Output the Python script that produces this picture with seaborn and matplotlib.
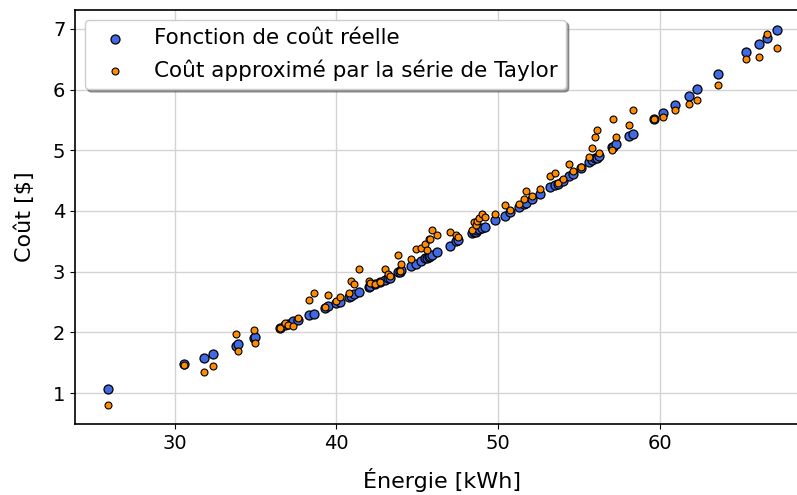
import matplotlib
matplotlib.use("Agg")
import matplotlib.pyplot as plt
import seaborn as sns
import pandas as pd

energie = [25.9, 30.6, 31.8, 32.4, 33.8, 33.9, 34.9, 35.0, 36.5, 36.8, 37.0, 37.3, 37.6,
           38.3, 38.6, 39.3, 39.5, 40.0, 40.2, 40.8, 40.9, 41.1, 41.4, 42.0, 42.1, 42.4,
           42.7, 43.0, 43.2, 43.3, 43.8, 43.9, 44.0, 44.6, 44.9, 45.2, 45.5, 45.6, 45.7,
           45.8, 45.9, 46.2, 47.0, 47.4, 47.5, 48.4, 48.5, 48.6, 48.7, 48.8, 49.0, 49.2,
           49.8, 50.4, 50.7, 51.3, 51.6, 51.7, 52.1, 52.6, 53.2, 53.5, 53.7, 54.0, 54.4,
           54.6, 55.1, 55.6, 55.8, 56.0, 56.1, 56.2, 57.0, 57.1, 57.3, 58.1, 58.3, 59.6,
           60.2, 60.9, 61.8, 62.3, 63.6, 65.3, 66.1, 66.6, 67.2]

cout_reel = [1.06, 1.48, 1.58, 1.65, 1.78, 1.80, 1.90, 1.92, 2.07, 2.12, 2.14, 2.18, 2.21,
             2.29, 2.31, 2.40, 2.43, 2.48, 2.50, 2.59, 2.60, 2.63, 2.67, 2.74, 2.76, 2.79,
             2.83, 2.87, 2.89, 2.90, 2.99, 3.00, 3.02, 3.09, 3.13, 3.17, 3.22, 3.23, 3.24,
             3.25, 3.27, 3.32, 3.43, 3.50, 3.52, 3.63, 3.65, 3.66, 3.68, 3.70, 3.72, 3.74,
             3.85, 3.92, 3.98, 4.07, 4.12, 4.13, 4.20, 4.28, 4.39, 4.43, 4.45, 4.50, 4.57,
             4.61, 4.70, 4.80, 4.84, 4.87, 4.88, 4.90, 5.05, 5.06, 5.10, 5.23, 5.27, 5.51,
             5.61, 5.75, 5.90, 6.01, 6.25, 6.61, 6.75, 6.85, 6.98]

cout_taylor = [0.80, 1.46, 1.35, 1.44, 1.98, 1.69, 2.04, 1.82, 2.07, 2.15, 2.12, 2.11, 2.23,
               2.54, 2.64, 2.41, 2.61, 2.52, 2.59, 2.65, 2.84, 2.79, 3.05, 2.85, 2.82, 2.79,
               2.83, 3.05, 2.96, 2.92, 3.28, 3.01, 3.13, 3.21, 3.38, 3.39, 3.45, 3.36, 3.54,
               3.53, 3.69, 3.60, 3.65, 3.60, 3.57, 3.69, 3.81, 3.76, 3.84, 3.88, 3.95, 3.90,
               3.95, 4.10, 4.02, 4.12, 4.19, 4.33, 4.25, 4.36, 4.58, 4.63, 4.46, 4.52, 4.78,
               4.65, 4.73, 4.89, 5.04, 5.21, 5.33, 4.96, 5.01, 5.51, 5.21, 5.42, 5.66, 5.51,
               5.54, 5.67, 5.76, 5.83, 6.08, 6.51, 6.53, 6.92, 6.69]

label_reel = "Fonction de coût réelle"
label_taylor = "Coût approximé par la série de Taylor"

df = pd.DataFrame({"energie": energie, "reel": cout_reel, "taylor": cout_taylor})

fig = plt.figure(figsize=(7.97, 4.95), dpi=100)
ax = fig.add_axes([75 / 797, 71 / 495, 734 / 797, 414 / 495])

sns.scatterplot(data=df, x="energie", y="reel", ax=ax, color="#4169E1", s=42,
                edgecolor="black", linewidth=0.9, label=label_reel, zorder=3)
sns.scatterplot(data=df, x="energie", y="taylor", ax=ax, color="#FF8C00", s=25,
                edgecolor="black", linewidth=0.8, label=label_taylor, zorder=3)

ax.set_xlim(23.85, 69.2)
ax.set_ylim(0.49, 7.31)
ax.set_xticks([30, 40, 50, 60])
ax.set_yticks([1, 2, 3, 4, 5, 6, 7])
ax.tick_params(labelsize=14)
ax.grid(True, color="#d3d3d3", linewidth=1.0, zorder=0)
ax.set_axisbelow(True)
ax.set_xlabel("Énergie [kWh]", fontsize=16, labelpad=11)
ax.set_ylabel("Coût [$]", fontsize=16, labelpad=13)
for sp in ax.spines.values():
    sp.set_linewidth(1.2)

ax.legend(loc="upper left", fontsize=15.5, shadow=True, borderaxespad=0.45)

fig.savefig("out.png", dpi=100)
